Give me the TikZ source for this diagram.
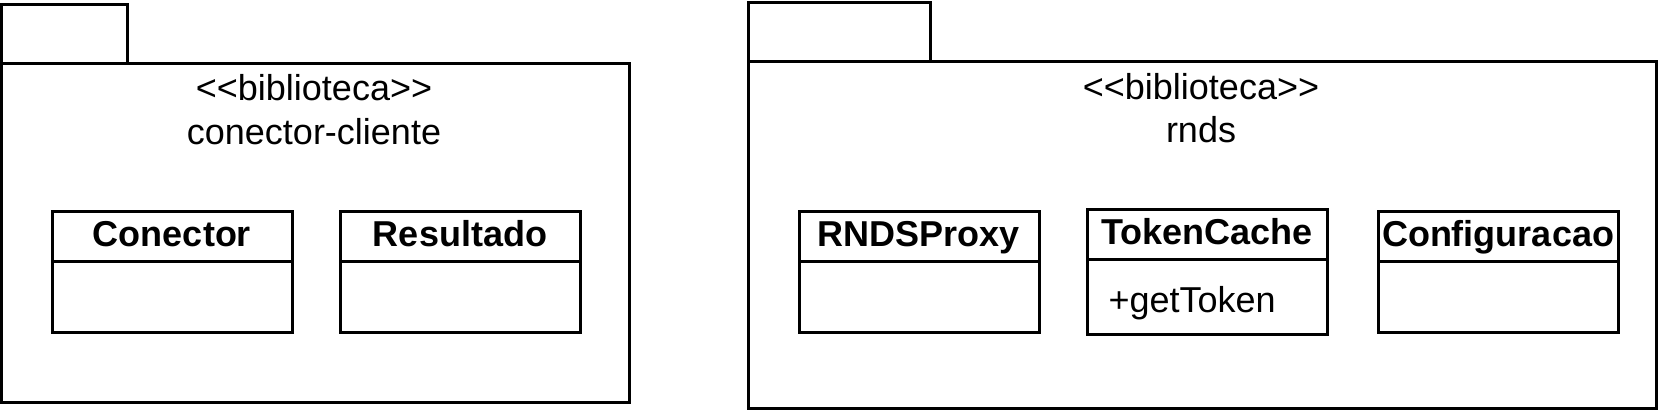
\documentclass[tikz,border=0pt]{standalone}
\usepackage{fontspec}
\setmainfont{Liberation Sans}
\newcommand{\stereo}[1]{<\kern0pt<#1>\kern0pt>}
\begin{document}
\begin{tikzpicture}[x=0.5pt,y=-0.5pt, line width=1.5pt,
  box/.style={draw, rectangle, inner sep=0, outer sep=0, anchor=north west},
  lbl/.style={font=\fontsize{18pt}{21pt}\selectfont, anchor=base, inner sep=0},
  ttl/.style={font=\fontsize{18pt}{21pt}\selectfont\bfseries, anchor=base, inner sep=0},
  cls/.style={box, minimum width=120pt, minimum height=60pt}]
\useasboundingbox (0,0) rectangle (1659,411);
% left package
\node[box, minimum width=62.75pt, minimum height=29.5pt] (tabL) at (1.5,4.5) {};
\node[box, minimum width=313.75pt, minimum height=169.5pt] (pkgL) at (1.5,63.5) {};
\node[lbl] (stL) at (314,101) {\stereo{biblioteca}};
\node[lbl] (nmL) at (314,145) {conector-cliente};
% right package
\node[box, minimum width=91pt, minimum height=29.5pt] (tabR) at (748,3) {};
\node[box, minimum width=454pt, minimum height=173pt] (pkgR) at (748,62) {};
\node[lbl] (stR) at (1201,100) {\stereo{biblioteca}};
\node[lbl] (nmR) at (1201,143) {rnds};
% classes
\node[cls] (conector) at (52,212) {};
\draw ([yshift=-25pt]conector.north west) -- ([yshift=-25pt]conector.north east);
\node[ttl] (conectorT) at (172,247) {Conector};
\node[cls] (resultado) at (340,212) {};
\draw ([yshift=-25pt]resultado.north west) -- ([yshift=-25pt]resultado.north east);
\node[ttl] (resultadoT) at (460,247) {Resultado};
\node[cls] (rnds) at (799,212) {};
\draw ([yshift=-25pt]rnds.north west) -- ([yshift=-25pt]rnds.north east);
\node[ttl] (rndsT) at (919,247) {RNDSProxy};
\node[cls, minimum height=62pt] (token) at (1087,210) {};
\draw ([yshift=-25pt]token.north west) -- ([yshift=-25pt]token.north east);
\node[ttl] (tokenT) at (1207,245) {TokenCache};
\node[lbl, anchor=base west] (tokenM) at (1107,312) {+getToken};
\node[cls] (config) at (1378,212) {};
\draw ([yshift=-25pt]config.north west) -- ([yshift=-25pt]config.north east);
\node[ttl] (configT) at (1498,247) {Configuracao};
\end{tikzpicture}
\end{document}
